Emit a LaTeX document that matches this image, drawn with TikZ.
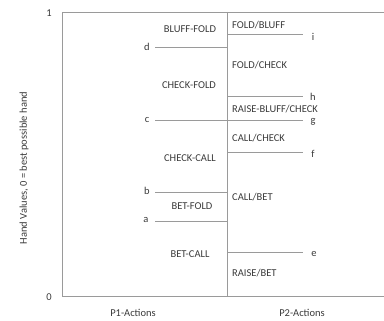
\documentclass[tikz,border=0pt]{standalone}
\usepackage{fontspec}
\setmainfont{Carlito}
\usepackage{tikz}
\usetikzlibrary{positioning}
\definecolor{cLine}{HTML}{9A9A9A}
\definecolor{cText}{HTML}{3A3A3A}
\tikzset{
  ln/.style={draw=cLine, line width=0.9pt},
  act/.style={font=\fontsize{10.5}{12}\selectfont, text=cText, inner sep=0pt},
  actR/.style={act, anchor=west},
  tag/.style={font=\fontsize{10.5}{12}\selectfont, text=cText, inner sep=0pt}
}
\begin{document}
\begin{tikzpicture}[x=1pt, y=1pt]
\useasboundingbox (0,0) rectangle (384,321);
% frame
\coordinate (tl) at (62,309); \coordinate (tr) at (384,309);
\coordinate (bl) at (62,25);  \coordinate (br) at (384,25);
\coordinate (mt) at (227,309); \coordinate (mb) at (227,25);
\draw[ln] (tr) -- (tl) -- (bl) -- (br);
\draw[ln] (mt) -- (mb);
% P1 thresholds
\draw[ln] (155,274) -- (227,274);
\draw[ln] (155,201) -- (303,201);
\draw[ln] (155,129) -- (227,129);
\draw[ln] (155,100) -- (227,100);
% P2 thresholds
\draw[ln] (227,287) -- (303,287);
\draw[ln] (227,225) -- (303,225);
\draw[ln] (227,169) -- (303,169);
\draw[ln] (227,69) -- (303,69);
% threshold names
\node[tag] (d) at (147,274) {d};
\node[tag] (c) at (147,201) {c};
\node[tag] (b) at (147,130) {b};
\node[tag] (a) at (146,101) {a};
\node[tag] (i) at (313,284) {i};
\node[tag] (h) at (313,224) {h};
\node[tag] (g) at (313,199) {g};
\node[tag] (f) at (313,167) {f};
\node[tag] (e) at (314,67) {e};
% P1 actions
\node[act] (bf) at (190,292) {BLUFF-FOLD};
\node[act] (cf) at (189,236) {CHECK-FOLD};
\node[act] (cc) at (190,163) {CHECK-CALL};
\node[act] (btf) at (192,115) {BET-FOLD};
\node[act] (btc) at (190,67) {BET-CALL};
% P2 actions
\node[actR] (fb) at (232,296) {FOLD/BLUFF};
\node[actR] (fc) at (232,256) {FOLD/CHECK};
\node[actR] (rbc) at (232,212) {RAISE-BLUFF/CHECK};
\node[actR] (clc) at (232,183) {CALL/CHECK};
\node[actR] (clb) at (232,124) {CALL/BET};
\node[actR] (rb) at (232,48) {RAISE/BET};
% axes
\node[tag] (one) at (49,308) {1};
\node[tag] (zero) at (49,24) {0};
\node[tag, rotate=90] (yl) at (24,153) {Hand Values, 0 = best possible hand};
\node[tag] (p1) at (133,8) {P1-Actions};
\node[tag] (p2) at (302,8) {P2-Actions};
\end{tikzpicture}
\end{document}
